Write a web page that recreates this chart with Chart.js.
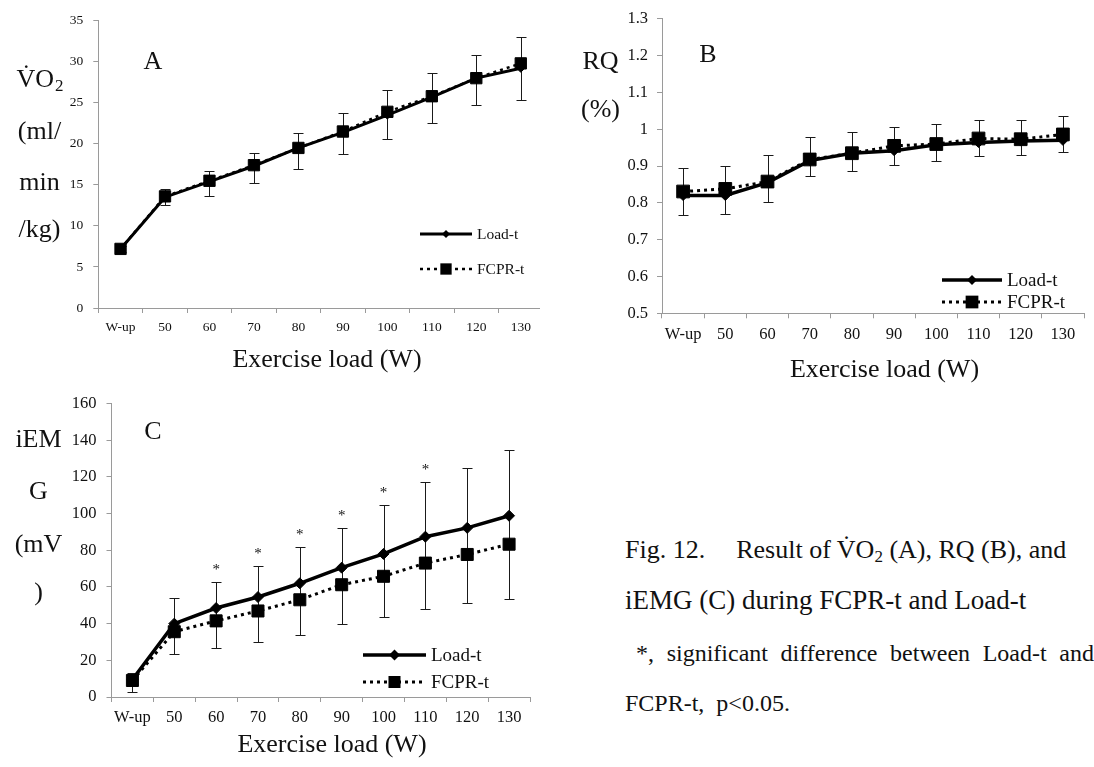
<!DOCTYPE html>
<html>
<head>
<meta charset="utf-8">
<script src="https://cdn.jsdelivr.net/npm/chart.js@4.4.1/dist/chart.umd.min.js"></script>
<style>
  body { margin: 0; background: #fff; width: 1094px; height: 767px; position: relative; overflow: hidden;
         font-family: "Liberation Serif", "Times New Roman", "DejaVu Serif", serif; color: #111; }
  .box { position: absolute; overflow: hidden; }
  canvas { display: block; }
  .cap { position: absolute; left: 625px; font-size: 26px; line-height: 30px; white-space: nowrap; }
  .cap sub { font-size: 17px; line-height: 0; vertical-align: -4px; }
</style>
</head>
<body>
<div class="box" style="left:0;top:0;width:540px;height:380px"><canvas id="chartA" width="552" height="380"></canvas></div>
<div class="box" style="left:545px;top:0;width:549px;height:390px"><canvas id="chartB" width="549" height="390"></canvas></div>
<div class="box" style="left:0;top:380px;width:560px;height:387px"><canvas id="chartC" width="560" height="387"></canvas></div>

<div class="cap" style="top:535px">Fig. 12.<span style="margin-left:31px">Result of V&#775;O<sub>2</sub> (A), RQ (B), and</span></div>
<div class="cap" style="top:585px;font-size:27px">iEMG (C) during FCPR-t and Load-t</div>
<div class="cap" style="top:638px;left:636px;width:458px;font-size:24px;white-space:normal;text-align:justify;text-align-last:justify">*, significant difference between Load-t and</div>
<div class="cap" style="top:688px;font-size:24px">FCPR-t,&nbsp; p&lt;0.05.</div>

<script>
const FONT = '"Liberation Serif", "Times New Roman", "DejaVu Serif", serif';

const loads = ["W-up", "50", "60", "70", "80", "90", "100", "110", "120", "130"];

// A: VO2 (ml/min/kg)
const vo2Load = [7.2, 13.5, 15.4, 17.3, 19.5, 21.4, 23.5, 25.7, 28.0, 29.2];
const vo2Fcpr = [7.2, 13.6, 15.5, 17.4, 19.5, 21.5, 23.9, 25.8, 28.0, 29.8];
const vo2Hi = [7.6, 14.5, 16.7, 18.9, 21.3, 23.7, 26.5, 28.6, 30.8, 33.0];
const vo2Lo = [6.8, 12.5, 13.6, 15.2, 16.9, 18.8, 20.6, 22.5, 24.7, 25.3];

// B: RQ
const rqLoad = [0.82, 0.82, 0.855, 0.915, 0.935, 0.942, 0.958, 0.964, 0.968, 0.970];
const rqFcpr = [0.831, 0.838, 0.858, 0.918, 0.935, 0.955, 0.960, 0.975, 0.973, 0.986];
const rqHi = [0.894, 0.899, 0.930, 0.980, 0.993, 1.005, 1.014, 1.025, 1.025, 1.037];
const rqLo = [0.766, 0.769, 0.803, 0.872, 0.886, 0.903, 0.915, 0.928, 0.931, 0.937];

// C: iEMG (mV)
const emgLoad = [9.5, 40, 48.5, 54.5, 62, 70.5, 78, 87.4, 92.2, 98.8];
const emgFcpr = [9, 35.6, 41.5, 46.9, 53, 61.2, 65.8, 73, 77.7, 83.3];
const emgHi = [13.3, 53.8, 62.5, 71.5, 81.5, 92.2, 104.6, 117, 125, 134.6];
const emgLo = [2.7, 23.3, 26.9, 30.2, 33.8, 39.6, 43.5, 47.8, 51.1, 53.6];
const emgSig = [false, false, true, true, true, true, true, true, false, false];

function marker(ctx, style, x, y, r) {
  ctx.beginPath();
  if (style === "rectRot") {
    ctx.moveTo(x, y - r); ctx.lineTo(x + r, y); ctx.lineTo(x, y + r); ctx.lineTo(x - r, y);
  } else {
    const s = r * Math.SQRT1_2;
    ctx.rect(x - s, y - s, 2 * s, 2 * s);
  }
  ctx.closePath();
  ctx.fill();
}

// error bars, titles, legend and the * marks
const decor = {
  id: "decor",
  beforeDatasetsDraw(chart, args, o) {
    const { ctx, scales: { x, y } } = chart;
    ctx.save();
    ctx.strokeStyle = "#1a1a1a";
    ctx.lineWidth = 1;
    o.hi.forEach((h, i) => {
      const px = Math.round(x.getPixelForValue(i)) + 0.5;
      const top = Math.round(y.getPixelForValue(h)) + 0.5;
      const bot = Math.round(y.getPixelForValue(o.lo[i])) + 0.5;
      ctx.beginPath();
      ctx.moveTo(px, top); ctx.lineTo(px, bot);
      ctx.moveTo(px - o.cap, top); ctx.lineTo(px + o.cap, top);
      ctx.moveTo(px - o.cap, bot); ctx.lineTo(px + o.cap, bot);
      ctx.stroke();
    });
    ctx.restore();
  },
  afterDraw(chart, args, o) {
    const { ctx, scales: { x, y } } = chart;
    ctx.save();
    ctx.fillStyle = "#111";
    ctx.textAlign = "center";
    ctx.textBaseline = "middle";

    // panel letter and x title
    ctx.font = "26px " + FONT;
    ctx.fillText(o.letter[0], o.letter[1], o.letter[2]);
    ctx.fillText("Exercise load (W)", o.xTitle[0], o.xTitle[1]);

    // y title, one line at a time
    o.yTitle.forEach((t, k) => {
      const cy = o.yTitleY[k];
      if (t.indexOf("_") < 0) {
        ctx.font = "26px " + FONT;
        ctx.fillText(t, o.yTitleX, cy);
        return;
      }
      const [main, sub] = t.split("_");
      ctx.font = "26px " + FONT;
      const w1 = ctx.measureText(main).width;
      ctx.font = "17px " + FONT;
      const w2 = ctx.measureText(sub).width;
      const left = o.yTitleX - (w1 + w2) / 2;
      ctx.textAlign = "left";
      ctx.textBaseline = "alphabetic";
      ctx.font = "26px " + FONT;
      ctx.fillText(main, left, cy + 9);
      ctx.font = "17px " + FONT;
      ctx.fillText(sub, left + w1 + 1, cy + 13);
      ctx.textAlign = "center";
      ctx.textBaseline = "middle";
    });

    // significance marks
    if (o.sig) {
      ctx.font = "15px " + FONT;
      ctx.textBaseline = "alphabetic";
      o.sig.forEach((s, i) => {
        if (!s) return;
        ctx.fillText("*", x.getPixelForValue(i), y.getPixelForValue(o.hi[i]) - 8);
      });
    }

    // legend
    const L = o.legend;
    chart.data.datasets.forEach((ds, k) => {
      const ly = L.y[k];
      ctx.strokeStyle = "#000";
      ctx.lineWidth = ds.borderWidth;
      ctx.setLineDash(ds.borderDash || []);
      ctx.beginPath();
      ctx.moveTo(L.x1, ly); ctx.lineTo(L.x2, ly);
      ctx.stroke();
      ctx.setLineDash([]);
      ctx.fillStyle = "#000";
      marker(ctx, ds.pointStyle, (L.x1 + L.x2) / 2, ly, ds.pointRadius);
      ctx.fillStyle = "#111";
      ctx.font = L.size + "px " + FONT;
      ctx.textAlign = "left";
      ctx.textBaseline = "middle";
      ctx.fillText(ds.label, L.x2 + 5, ly + 1);
    });
    ctx.restore();
  }
};

function makeChart(id, p) {
  const datasets = [
    {
      label: "Load-t", data: p.load, order: 2,
      borderColor: "#000", borderWidth: p.lw, tension: 0,
      pointStyle: "rectRot", pointRadius: p.diamond,
      pointBackgroundColor: "#000", pointBorderColor: "#000", pointBorderWidth: 1
    },
    {
      label: "FCPR-t", data: p.fcpr, order: 1,
      borderColor: "#000", borderWidth: p.lw - 0.5, borderDash: [3, 4], tension: 0,
      pointStyle: "rect", pointRadius: p.square,
      pointBackgroundColor: "#000", pointBorderColor: "#000", pointBorderWidth: 1
    }
  ];
  const axisGrey = "#9a9a9a";
  return new Chart(document.getElementById(id), {
    type: "line",
    data: { labels: loads, datasets: datasets },
    options: {
      responsive: false,
      animation: false,
      devicePixelRatio: 1,
      layout: { padding: { left: 0, top: p.area.top, right: p.area.right, bottom: 0 } },
      scales: {
        x: {
          type: "category",
          offset: true,
          grid: { offset: true, drawOnChartArea: false, tickLength: 5, color: axisGrey },
          border: { color: axisGrey },
          ticks: { color: "#111", font: { family: FONT, size: p.tick }, padding: p.xPad, maxRotation: 0, autoSkip: false },
          afterFit: (s) => { s.height = p.area.xh; }
        },
        y: {
          min: p.min, max: p.max,
          grid: { drawOnChartArea: false, tickLength: 5, color: axisGrey },
          border: { color: axisGrey },
          ticks: {
            stepSize: p.step, color: "#111", font: { family: FONT, size: p.tick }, padding: p.yPad,
            callback: (v) => String(Math.round(v * 10) / 10)
          },
          afterFit: (s) => { s.width = p.area.left; }
        }
      },
      plugins: {
        legend: { display: false },
        tooltip: { enabled: false },
        decor: {
          hi: p.hi, lo: p.lo, cap: 5, sig: p.sig,
          letter: p.letter, xTitle: p.xTitle,
          yTitle: p.yTitle, yTitleX: p.yTitleX, yTitleY: p.yTitleY,
          legend: p.legend
        }
      }
    },
    plugins: [decor]
  });
}

makeChart("chartA", {
  load: vo2Load, fcpr: vo2Fcpr, hi: vo2Hi, lo: vo2Lo,
  min: 0, max: 35, step: 5, tick: 13.5, xPad: 6.5, yPad: 10,
  lw: 3, diamond: 4, square: 8,
  area: { left: 98.3, top: 20.7, right: 1.7, xh: 72 },
  letter: ["A", 153, 62], xTitle: [327, 360],
  yTitle: ["V\u0307O_2", "(ml/", "min", "/kg)"], yTitleX: 39.5, yTitleY: [78, 132, 183, 230],
  legend: { x1: 420, x2: 472, y: [234, 269], size: 15.5 }
});

makeChart("chartB", {
  load: rqLoad, fcpr: rqFcpr, hi: rqHi, lo: rqLo,
  min: 0.5, max: 1.3, step: 0.1, tick: 16.5, xPad: 6.8, yPad: 9,
  lw: 3.5, diamond: 5, square: 9,
  area: { left: 117, top: 17.3, right: 2.7, xh: 76.7 },
  letter: ["B", 163, 55], xTitle: [339.5, 370],
  yTitle: ["RQ", "(%)"], yTitleX: 55.5, yTitleY: [62, 110],
  legend: { x1: 397, x2: 457, y: [280, 302], size: 19 }
});

makeChart("chartC", {
  load: emgLoad, fcpr: emgFcpr, hi: emgHi, lo: emgLo, sig: emgSig,
  min: 0, max: 160, step: 20, tick: 16.5, xPad: 6.1, yPad: 10,
  lw: 3.5, diamond: 5.5, square: 8.5,
  area: { left: 111.5, top: 23.5, right: 30, xh: 70 },
  letter: ["C", 153, 52], xTitle: [332, 365],
  yTitle: ["iEM", "G", "(mV", ")"], yTitleX: 38.5, yTitleY: [60, 112, 165, 213],
  legend: { x1: 363, x2: 426, y: [275, 302], size: 19 }
});
</script>
</body>
</html>
